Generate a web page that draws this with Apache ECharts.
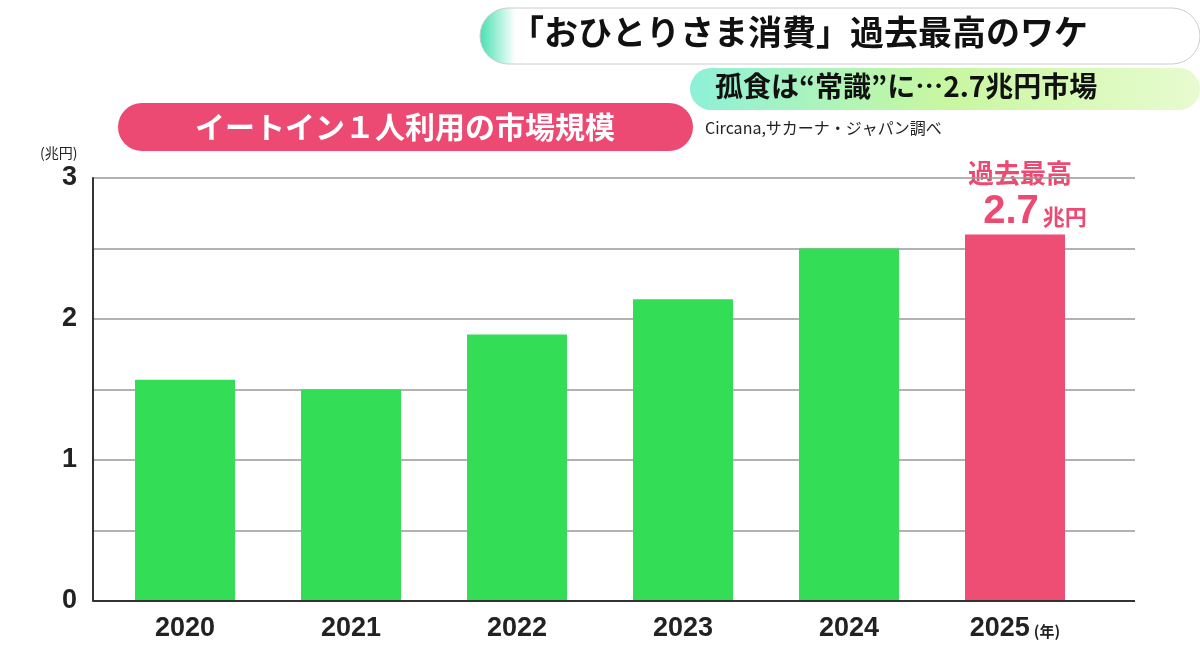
<!DOCTYPE html>
<html><head><meta charset="utf-8">
<script src="https://cdn.jsdelivr.net/npm/echarts@6/dist/echarts.min.js"></script>
<style>html,body{margin:0;background:#fff}#c{width:1200px;height:652px}</style>
</head><body><div id="c"></div>
<script>
const years = ['2020', '2021', '2022', '2023', '2024', '2025'];
const values = [1.57, 1.50, 1.89, 2.14, 2.50, 2.60];
const yTicks = [0, 1, 2, 3];
const F = '"Noto Sans CJK JP", sans-serif';

const chart = echarts.init(document.getElementById('c'));
chart.setOption({
  animation: false,
  grid: [
    { left: 93, right: 65, top: 178, bottom: 51 },
    { left: 102, right: 102, top: 178, bottom: 51 }
  ],
  xAxis: [
    { type: 'category', gridIndex: 0, data: years, show: false },
    { type: 'category', gridIndex: 1, data: years,
      axisLine: { show: false },
      axisTick: { show: false },
      axisLabel: { interval: 0, color: '#222', fontSize: 27, fontFamily: 'Liberation Sans', fontWeight: 'bold', margin: 14,
        formatter: v => v === '2025' ? v + '{u|(年)}' : v,
        rich: { u: { fontSize: 15, fontFamily: F, color: '#222', padding: [6, 0, 0, 4] } } } }
  ],
  yAxis: [
    { type: 'value', gridIndex: 0, min: 0, max: 3, interval: 0.5,
      axisLine: { show: true, lineStyle: { color: '#333', width: 2 } },
      splitLine: { lineStyle: { color: '#999', width: 1.5 } },
      axisLabel: { color: '#222', fontSize: 27, fontFamily: 'Liberation Sans', fontWeight: 'bold', margin: 16,
        formatter: v => yTicks.includes(v) ? String(v) : '' } },
    { type: 'value', gridIndex: 1, min: 0, max: 3, show: false, splitLine: { show: false } }
  ],
  series: [
    { type: 'line', xAxisIndex: 0, yAxisIndex: 0, data: [], markLine: { silent: true, symbol: 'none', label: { show: false },
        lineStyle: { color: '#333', width: 2, type: 'solid' }, data: [{ yAxis: 0 }] } },
    { type: 'bar', xAxisIndex: 1, yAxisIndex: 1, barWidth: 100,
      data: values.map((v, i) => ({ value: v, itemStyle: { color: i === 5 ? '#ee4d74' : '#33dd55' } })) }
  ],
  graphic: [
    { type: 'rect', shape: { x: 480, y: 8, width: 720, height: 56, r: 28 },
      style: { fill: new echarts.graphic.LinearGradient(0, 0, 1, 0, [
        { offset: 0, color: '#44e0b0' }, { offset: 0.05, color: '#ffffff' }, { offset: 1, color: '#ffffff' }]),
        stroke: '#ccc', lineWidth: 1 } },
    { type: 'text', left: 510, top: 15, style: { text: '「おひとりさま消費」過去最高のワケ', font: 'bold 34px ' + F, fill: '#111' } },
    { type: 'rect', shape: { x: 690, y: 68, width: 510, height: 42, r: 21 },
      style: { fill: new echarts.graphic.LinearGradient(0, 0, 1, 0, [
        { offset: 0, color: '#8ef0d8' }, { offset: 0.5, color: '#c8f7a0' }, { offset: 1, color: '#e8fbd0' }]) } },
    { type: 'text', left: 715, top: 72, style: { text: '孤食は“常識”に…2.7兆円市場', font: 'bold 28px ' + F, fill: '#111' } },
    { type: 'rect', shape: { x: 118, y: 103, width: 575, height: 48, r: 24 }, style: { fill: '#ec4a72' } },
    { type: 'text', x: 405, y: 127, style: { text: 'イートイン１人利用の市場規模', font: 'bold 30px ' + F, fill: '#fff', align: 'center', verticalAlign: 'middle' } },
    { type: 'text', left: 705, top: 120, style: { text: 'Circana,サカーナ・ジャパン調べ', font: '16px ' + F, fill: '#222' } },
    { type: 'text', left: 40, top: 146, style: { text: '(兆円)', font: '14px ' + F, fill: '#222' } },
    { type: 'text', x: 1020, y: 173, style: { text: '過去最高', font: 'bold 26px ' + F, fill: '#ec4a72', align: 'center', verticalAlign: 'middle' } },
    { type: 'text', x: 1035, y: 212, style: { text: '{a|2.7}{b|兆円}', align: 'center', verticalAlign: 'middle',
      rich: { a: { font: 'bold 40px "Liberation Sans"', fill: '#ec4a72' }, b: { font: 'bold 22px ' + F, fill: '#ec4a72', padding: [10, 0, 0, 4] } } } }
  ]
});
</script></body></html>
